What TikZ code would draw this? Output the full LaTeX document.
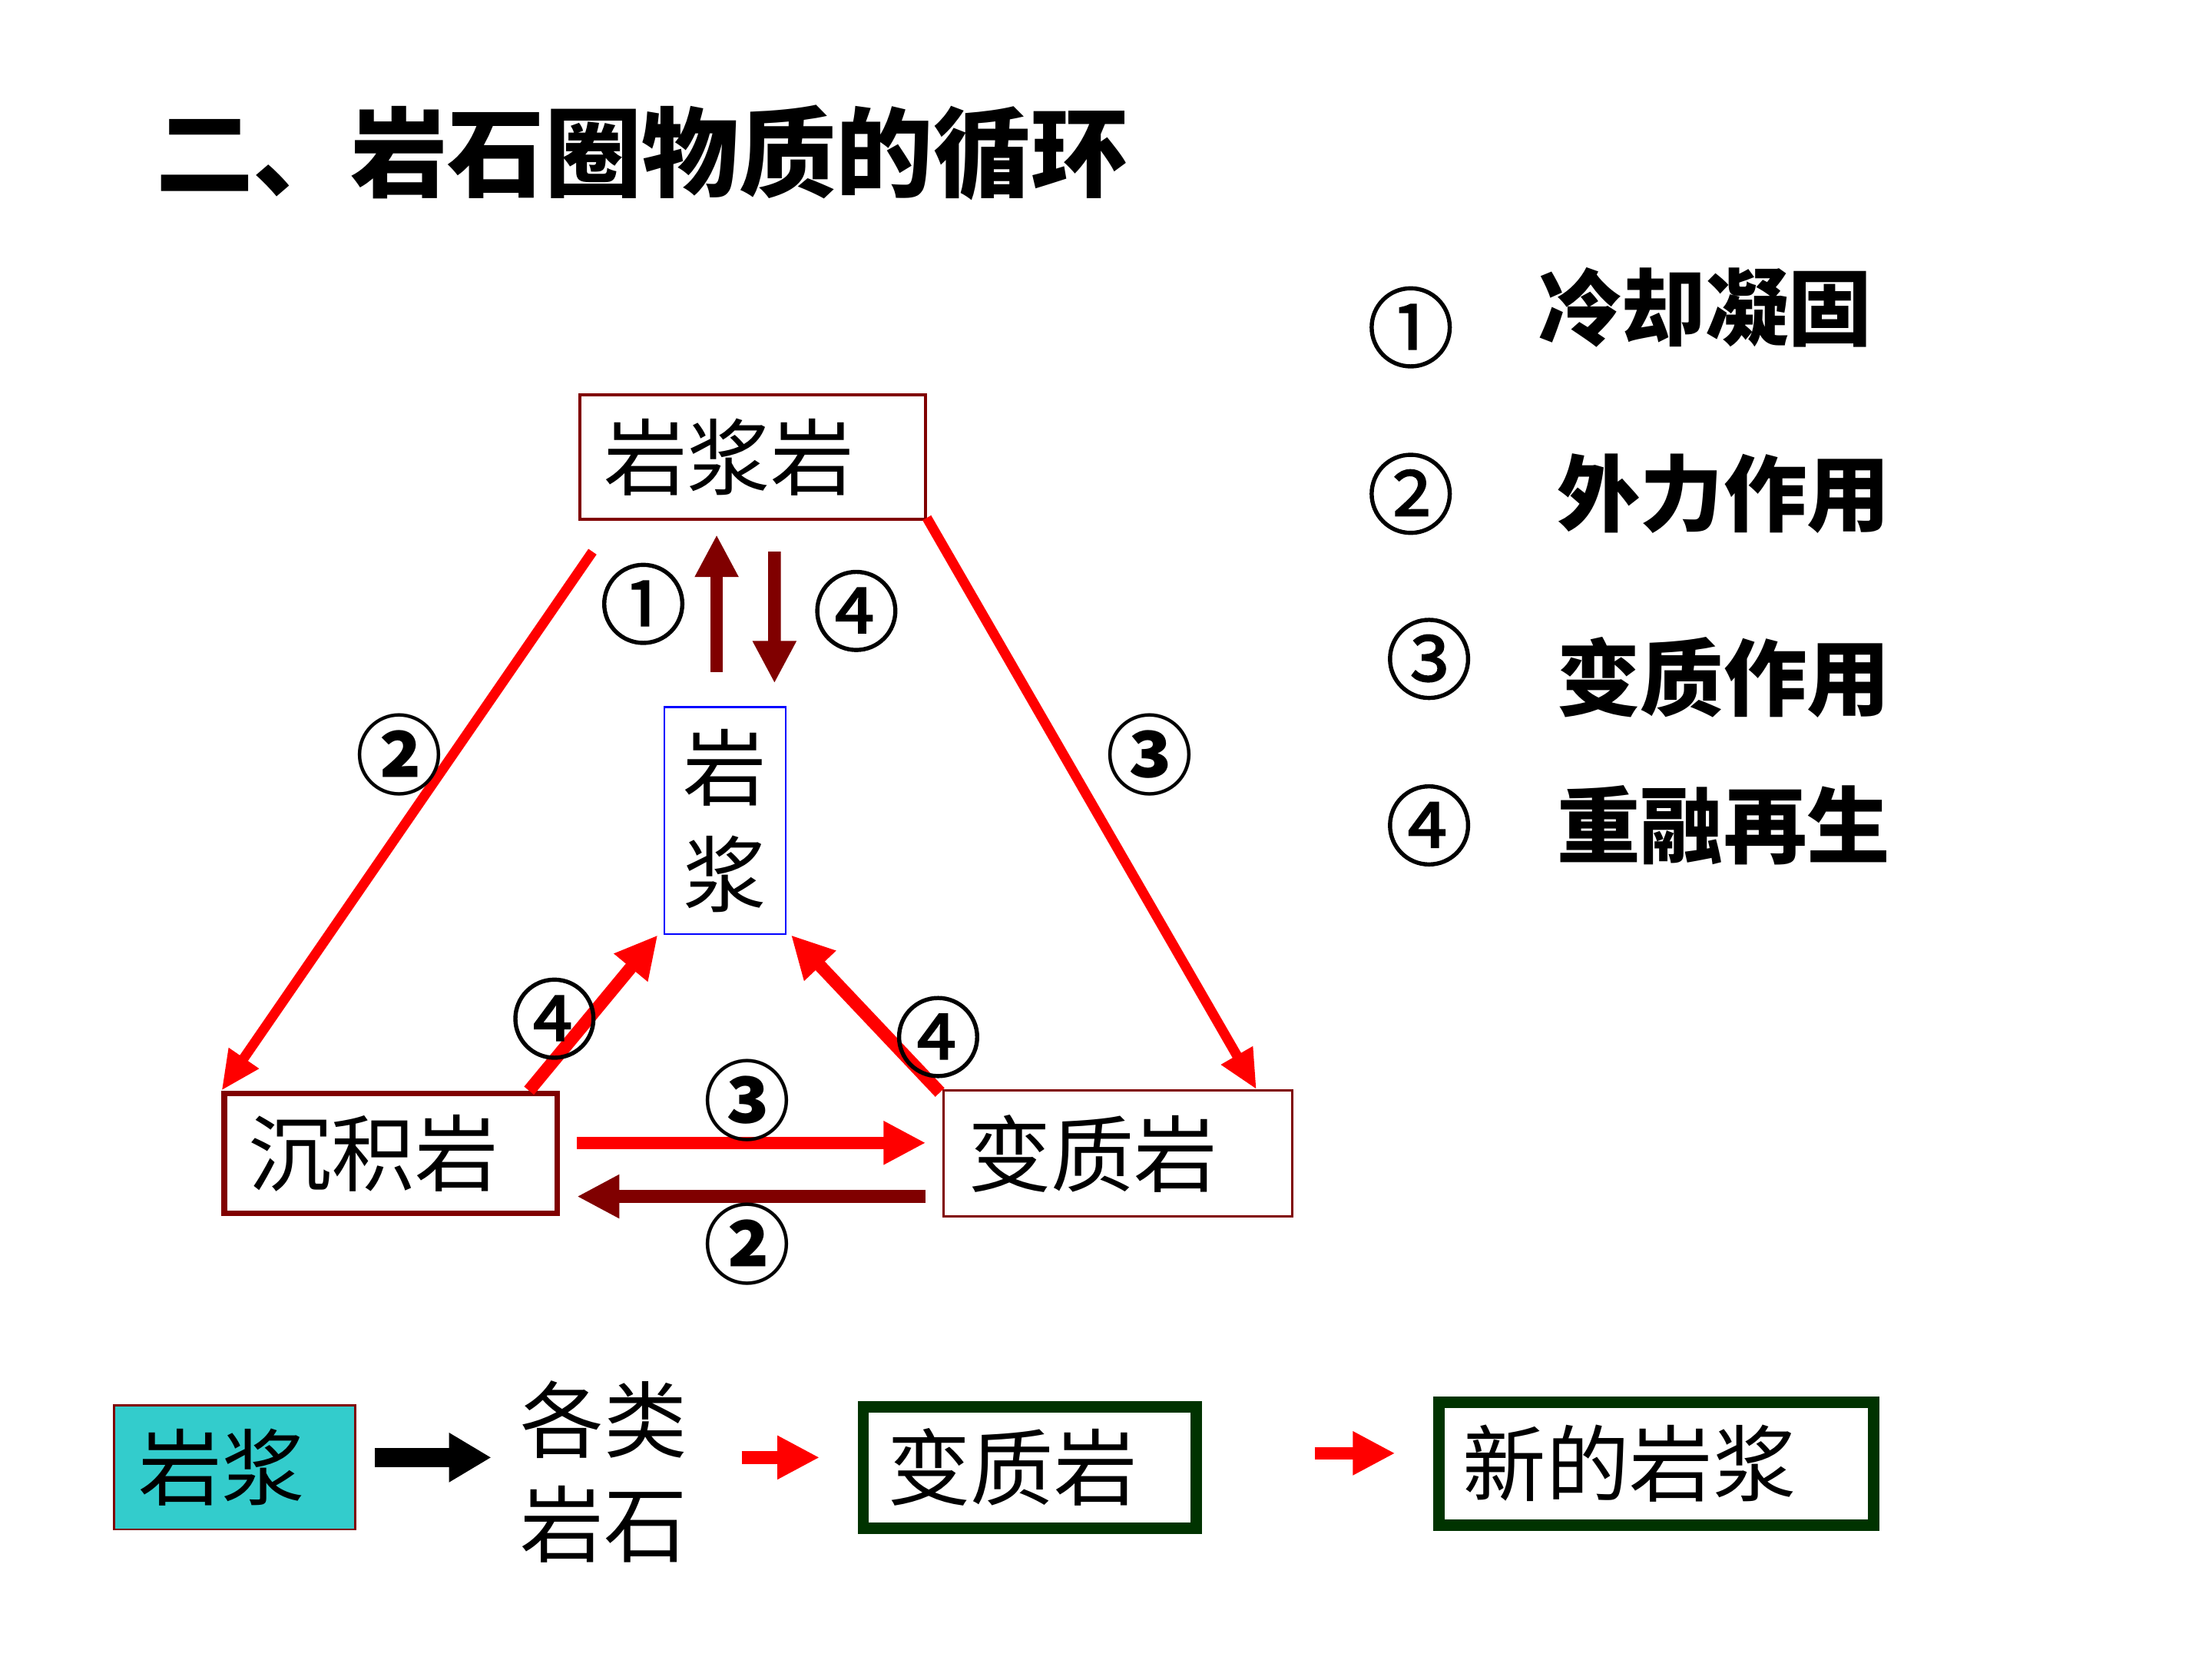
\documentclass[tikz,border=0pt]{standalone}
\usepackage{fontspec}
\setmainfont{Noto Sans CJK SC}
\newfontfamily\numfont{Noto Sans CJK SC}[FakeBold=1.6]
\usetikzlibrary{arrows.meta,positioning,calc}
\definecolor{RockRed}{HTML}{FF0000}
\definecolor{RockMaroon}{HTML}{800000}
\definecolor{RockBlue}{HTML}{0000FF}
\definecolor{RockCyan}{HTML}{33CCCC}
\definecolor{RockGreen}{HTML}{003300}
\newcommand\bodysize{\fontsize{16.8}{20.8}\selectfont}

\begin{document}
\begin{tikzpicture}[x=0.1mm, y=-0.1mm,
  box/.style={draw=RockMaroon, line width=0.2mm, align=left, inner xsep=1.7mm,
              inner ysep=0pt, font=\bodysize},
  greenbox/.style={draw=RockGreen, line width=0.8mm, align=left, inner xsep=1.7mm,
              inner ysep=0pt, minimum height=8.6mm, font=\bodysize},
  num/.style={font=\fontsize{17.5}{18}\selectfont\numfont, inner sep=0pt},
  boldnum/.style={num, font=\fontsize{17.5}{18}\selectfont\bfseries},
  legend/.style={anchor=west, font=\bodysize\bfseries, inner sep=0pt},
  edge/.style={RockRed, line width=0.7mm, -{Triangle[length=2.8mm, width=2.4mm]}},
  fat/.style={line width=0.9mm, -{Triangle[length=3mm, width=2.9mm]}}
]
  \useasboundingbox (0,0) rectangle (1568,1176);

  % title
  \node[anchor=west, inner sep=0pt, font=\fontsize{19.6}{22}\selectfont\bfseries]
    (title) at (110,108) {二、岩石圈物质的循环};

  % rock boxes
  \node[box, text width=21.1mm, minimum height=8.8mm] (igneous) at (533.5,324) {岩浆岩};
  \node[box, line width=0.4mm, text width=20.2mm, minimum height=8.5mm] (sedim) at (277,817.5) {沉积岩};
  \node[box, line width=0.15mm, text width=21.3mm, minimum height=8.9mm] (meta) at (792.5,817.5) {变质岩};
  \node[draw=RockBlue, line width=0.15mm, align=center, minimum width=8.6mm,
        minimum height=16.1mm, inner sep=0pt, font=\fontsize{16.8}{21.5}\selectfont]
    (magma) at (514,581.5) {\rule{0pt}{5mm}岩\\浆};

  % cycle edges
  \draw[edge] ($(igneous.south west)+(10,22)$) -- (sedim.north west);
  \draw[edge] ($(igneous.south east)+(0,-2)$) -- ($(meta.north east)+(-26,0)$);
  \draw[fat, RockMaroon] ($(magma.north)+(-6,-24)$) -- ($(igneous.south)+(-25.5,10)$);
  \draw[fat, RockMaroon] ($(igneous.south)+(15.5,22)$) -- ($(magma.north)+(35,-16)$);
  \draw[fat, RockRed] ($(sedim.north east)+(-22,0)$) -- ($(magma.south west)+(-4,0)$);
  \draw[fat, RockRed] ($(meta.north west)+(-2,2)$) -- ($(magma.south east)+(3,0)$);
  \draw[fat, RockRed] ($(sedim.east)+(12,-7.5)$) -- ($(meta.west)+(-12,-7.5)$);
  \draw[fat, RockMaroon] ($(meta.west)+(-12,30.5)$) -- ($(sedim.east)+(12,30.5)$);

  % labels on the cycle
  \node[num] (l1) at (456,428) {①};
  \node[num] (l4a) at (607,433) {④};
  \node[boldnum] (l2a) at (283,535) {②};
  \node[boldnum] (l3a) at (815,535) {③};
  \node[num] (l4b) at (393,722) {④};
  \node[num] (l4c) at (665,735) {④};
  \node[boldnum] (l3b) at (530,780) {③};
  \node[boldnum] (l2b) at (530,882) {②};

  % legend
  \node[num] (k1) at (1000,232) {①};
  \node[legend] (t1) at (1090,218) {冷却凝固};
  \node[num] (k2) at (1000,350) {②};
  \node[legend] (t2) at (1103,350) {外力作用};
  \node[num] (k3) at (1013,467) {③};
  \node[legend] (t3) at (1103,480) {变质作用};
  \node[num] (k4) at (1013,585) {④};
  \node[legend] (t4) at (1103,585) {重融再生};

  % bottom chain
  \node[box, fill=RockCyan, line width=0.15mm, text width=13.7mm, minimum height=8.8mm]
    (bmagma) at (166.5,1040) {岩浆};
  \node[align=center, inner sep=0pt, font=\fontsize{16.8}{21}\selectfont]
    (rocks) at (428,1043) {各类\\岩石};
  \node[greenbox, text width=20.2mm] (bmeta) at (730,1040) {变质岩};
  \node[greenbox, text width=27.4mm, minimum height=8.7mm] (newmagma) at (1174,1037.5) {新的岩浆};
  \draw[line width=1.4mm, -{Triangle[length=3mm, width=3.3mm]}]
    ($(bmagma.east)+(13,-7)$) -- ($(rocks.west)+(-20,-10)$);
  \draw[fat, RockRed] ($(rocks.east)+(38,-10)$) -- ($(bmeta.west)+(-27,-7)$);
  \draw[fat, RockRed] ($(bmeta.east)+(80,-10)$) -- ($(newmagma.west)+(-27,-7.5)$);
\end{tikzpicture}
\end{document}
